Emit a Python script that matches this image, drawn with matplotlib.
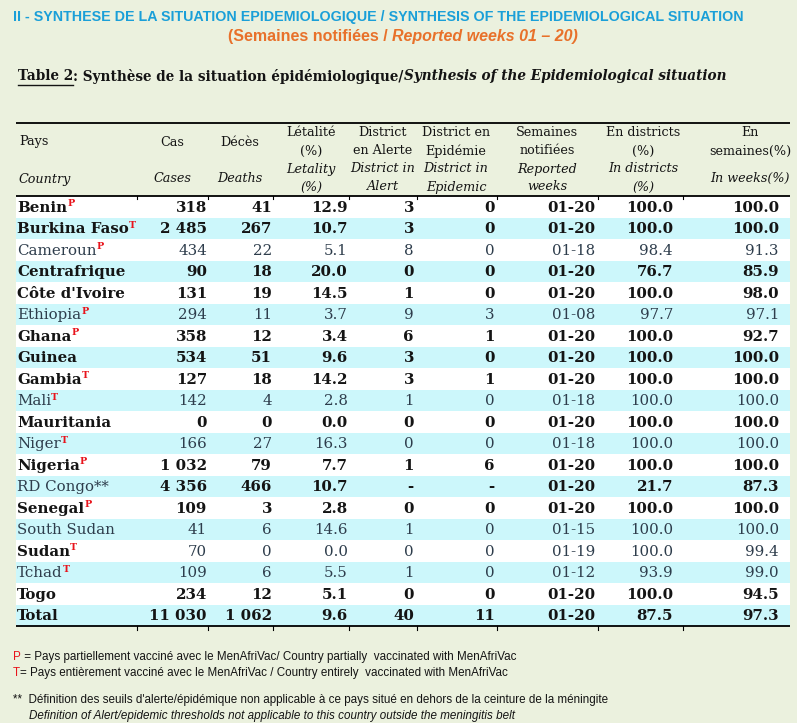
import matplotlib
matplotlib.use('Agg')
import matplotlib.pyplot as plt

# ---- data ----
countries = ["Benin", "Burkina Faso", "Cameroun", "Centrafrique", "Côte d'Ivoire", "Ethiopia",
             "Ghana", "Guinea", "Gambia", "Mali", "Mauritania", "Niger", "Nigeria", "RD Congo**",
             "Senegal", "South Sudan", "Sudan", "Tchad", "Togo", "Total"]
vacc_marks = ["P", "T", "P", "", "", "P", "P", "", "T", "T", "", "T", "P", "", "P", "", "T", "T", "", ""]
cases = [318, 2485, 434, 90, 131, 294, 358, 534, 127, 142, 0, 166, 1032, 4356, 109, 41, 70, 109, 234, 11030]
deaths = [41, 267, 22, 18, 19, 11, 12, 51, 18, 4, 0, 27, 79, 466, 3, 6, 0, 6, 12, 1062]
letality = [12.9, 10.7, 5.1, 20.0, 14.5, 3.7, 3.4, 9.6, 14.2, 2.8, 0.0, 16.3, 7.7, 10.7, 2.8, 14.6, 0.0, 5.5, 5.1, 9.6]
district_alert = [3, 3, 8, 0, 1, 9, 6, 3, 3, 1, 0, 0, 1, None, 0, 1, 0, 1, 0, 40]
district_epid = [0, 0, 0, 0, 0, 3, 1, 0, 1, 0, 0, 0, 6, None, 0, 0, 0, 0, 0, 11]
weeks = ["01-20", "01-20", "01-18", "01-20", "01-20", "01-08", "01-20", "01-20", "01-20", "01-18",
         "01-20", "01-18", "01-20", "01-20", "01-20", "01-15", "01-19", "01-12", "01-20", "01-20"]
pct_districts = [100.0, 100.0, 98.4, 76.7, 100.0, 97.7, 100.0, 100.0, 100.0, 100.0, 100.0, 100.0, 100.0,
                 21.7, 100.0, 100.0, 100.0, 93.9, 100.0, 87.5]
pct_weeks = [100.0, 100.0, 91.3, 85.9, 98.0, 97.1, 92.7, 100.0, 100.0, 100.0, 100.0, 100.0, 100.0,
             87.3, 100.0, 100.0, 99.4, 99.0, 94.5, 97.3]
name_bold = [1, 1, 0, 1, 1, 0, 1, 1, 1, 0, 1, 0, 1, 0, 1, 0, 1, 0, 1, 1]
value_bold = [1, 1, 0, 1, 1, 0, 1, 1, 1, 0, 1, 0, 1, 1, 1, 0, 0, 0, 1, 1]

BG = '#ebf1de'
CYAN = '#ccf7fb'
DARK = '#141414'
SLATE = '#2e3d4c'
BLUE = '#1a9fd8'
ORANGE = '#e8712a'
RED = '#e8141c'
SERIF = ['DejaVu Serif']
SANS = ['Liberation Sans', 'DejaVu Sans']

fig = plt.figure(figsize=(7.97, 7.23), dpi=100, facecolor=BG)
ax = fig.add_axes([0, 0, 1, 1])
ax.set_xlim(0, 797)
ax.set_ylim(723, 0)
ax.axis('off')
ax.set_facecolor(BG)
renderer = fig.canvas.get_renderer()


def runs(x, y, parts, ha='left', va='center'):
    # draw consecutive text pieces, measuring each one
    arts = []
    for txt, kw in parts:
        t = ax.text(x, y, txt, ha='left', va=va, **kw)
        w = t.get_window_extent(renderer).width
        arts.append((t, x, w))
        x += w
    total = x - arts[0][1]
    if ha == 'center':
        shift = total / 2
        for t, x0, w in arts:
            t.set_x(x0 - shift)
        arts = [(t, x0 - shift, w) for t, x0, w in arts]
    return arts


def fmt_int(v):
    if v is None:
        return '-'
    return f"{v:,}".replace(",", " ")


# ---- titles ----
ax.text(13, 17, "II - SYNTHESE DE LA SITUATION EPIDEMIOLOGIQUE / SYNTHESIS OF THE EPIDEMIOLOGICAL SITUATION",
        family=SANS, fontweight='bold', fontsize=10.3, color=BLUE, va='center')
runs(403, 36, [("(Semaines notifiées / ", dict(family=SANS, fontweight='bold', fontsize=11.5, color=ORANGE)),
               ("Reported weeks 01 – 20)", dict(family=SANS, fontweight='bold', style='italic',
                                                fontsize=11.5, color=ORANGE))], ha='center')
tparts = runs(18, 76, [("Table 2", dict(family=SERIF, fontweight='bold', fontsize=9.8, color=DARK)),
                       (": Synthèse de la situation épidémiologique/", dict(family=SERIF, fontweight='bold',
                                                                          fontsize=9.8, color=DARK)),
                       ("Synthesis of the Epidemiological situation", dict(family=SERIF, fontweight='bold',
                                                                         style='italic', fontsize=9.8,
                                                                         color=DARK))])
t0, x0, w0 = tparts[0]
ax.plot([x0, x0 + w0], [84.5, 84.5], color=DARK, lw=1.0)

# ---- table geometry ----
left, right = 16, 790
top_line, head_line = 123, 196
row_h = 21.5
n = len(countries)
col_sep = [137, 208, 273, 349, 417, 497, 598, 683]
bottom_line = head_line + row_h * n

for i in range(n):
    y0 = head_line + i * row_h
    ax.fill_between([left, right], y0, y0 + row_h, color=CYAN if i % 2 == 1 else 'white', lw=0)

for yl in (top_line, head_line, bottom_line):
    ax.plot([left, right], [yl, yl], color='black', lw=1.3, solid_capstyle='butt')
for xs in col_sep:
    ax.plot([xs, xs], [head_line, head_line + 3], color='black', lw=0.8)
    ax.plot([xs, xs], [bottom_line, bottom_line + 4], color='black', lw=0.8)

# ---- header ----
hs = dict(family=SERIF, fontsize=9.2, color=DARK, va='center')
hi = dict(family=SERIF, fontsize=9.2, color=DARK, va='center', style='italic')
ax.text(19, 142, "Pays", ha='left', **hs)
ax.text(19, 179, "Country", ha='left', **hi)
ax.text(172, 142, "Cas", ha='center', **hs)
ax.text(172, 179, "Cases", ha='center', **hi)
ax.text(240, 142, "Décès", ha='center', **hs)
ax.text(240, 179, "Deaths", ha='center', **hi)
header_cols = [
    (311, ["Létalité", "(%)"], ["Letality", "(%)"]),
    (383, ["District", "en Alerte"], ["District in", "Alert"]),
    (456, ["District en", "Epidémie"], ["District in", "Epidemic"]),
    (547, ["Semaines", "notifiées"], ["Reported", "weeks"]),
    (643, ["En districts", "(%)"], ["In districts", "(%)"]),
]
for xc, fr, en in header_cols:
    ax.text(xc, 133, fr[0], ha='center', **hs)
    ax.text(xc, 151, fr[1], ha='center', **hs)
    ax.text(xc, 169, en[0], ha='center', **hi)
    ax.text(xc, 187, en[1], ha='center', **hi)
ax.text(750, 133, "En", ha='center', **hs)
ax.text(750, 151, "semaines(%)", ha='center', **hs)
ax.text(750, 178, "In weeks(%)", ha='center', **hi)

# ---- body ----
col_right = [207, 272, 348, 414, 495, 595, 673, 779]
for i in range(n):
    yc = head_line + i * row_h + row_h / 2 + 1
    nb = 'bold' if name_bold[i] else 'normal'
    ncol = DARK if name_bold[i] else SLATE
    parts = [(countries[i], dict(family=SERIF, fontweight=nb, fontsize=10.8, color=ncol))]
    arts = runs(17, yc, parts)
    if vacc_marks[i]:
        t, x0, w = arts[0]
        ax.text(x0 + w, yc - 4, vacc_marks[i], family=SERIF, fontweight='bold', fontsize=6.8,
                color=RED, ha='left', va='center')
    vb = 'bold' if value_bold[i] else 'normal'
    vcol = DARK if value_bold[i] else SLATE
    vals = [fmt_int(cases[i]), fmt_int(deaths[i]), f"{letality[i]:.1f}", fmt_int(district_alert[i]),
            fmt_int(district_epid[i]), weeks[i], f"{pct_districts[i]:.1f}", f"{pct_weeks[i]:.1f}"]
    for xr, v in zip(col_right, vals):
        ax.text(xr, yc, v, ha='right', va='center', family=SERIF, fontweight=vb, fontsize=10.8, color=vcol)

# ---- footnotes ----
fn = dict(family=SANS, fontsize=8.4, color=DARK)
runs(13, 657, [("P", dict(family=SANS, fontsize=8.4, color=RED)),
               (" = Pays partiellement vacciné avec le MenAfriVac/ Country partially  vaccinated with MenAfriVac", fn)])
runs(13, 673, [("T", dict(family=SANS, fontsize=8.4, color=RED)),
               ("= Pays entièrement vacciné avec le MenAfriVac / Country entirely  vaccinated with MenAfriVac", fn)])
ax.text(13, 700, "**  Définition des seuils d'alerte/épidémique non applicable à ce pays situé en dehors de la ceinture de la méningite",
        va='center', **fn)
ax.text(29, 716, "Definition of Alert/epidemic thresholds not applicable to this country outside the meningitis belt",
        va='center', style='italic', **fn)

fig.savefig('out.png', dpi=100, facecolor=BG)
